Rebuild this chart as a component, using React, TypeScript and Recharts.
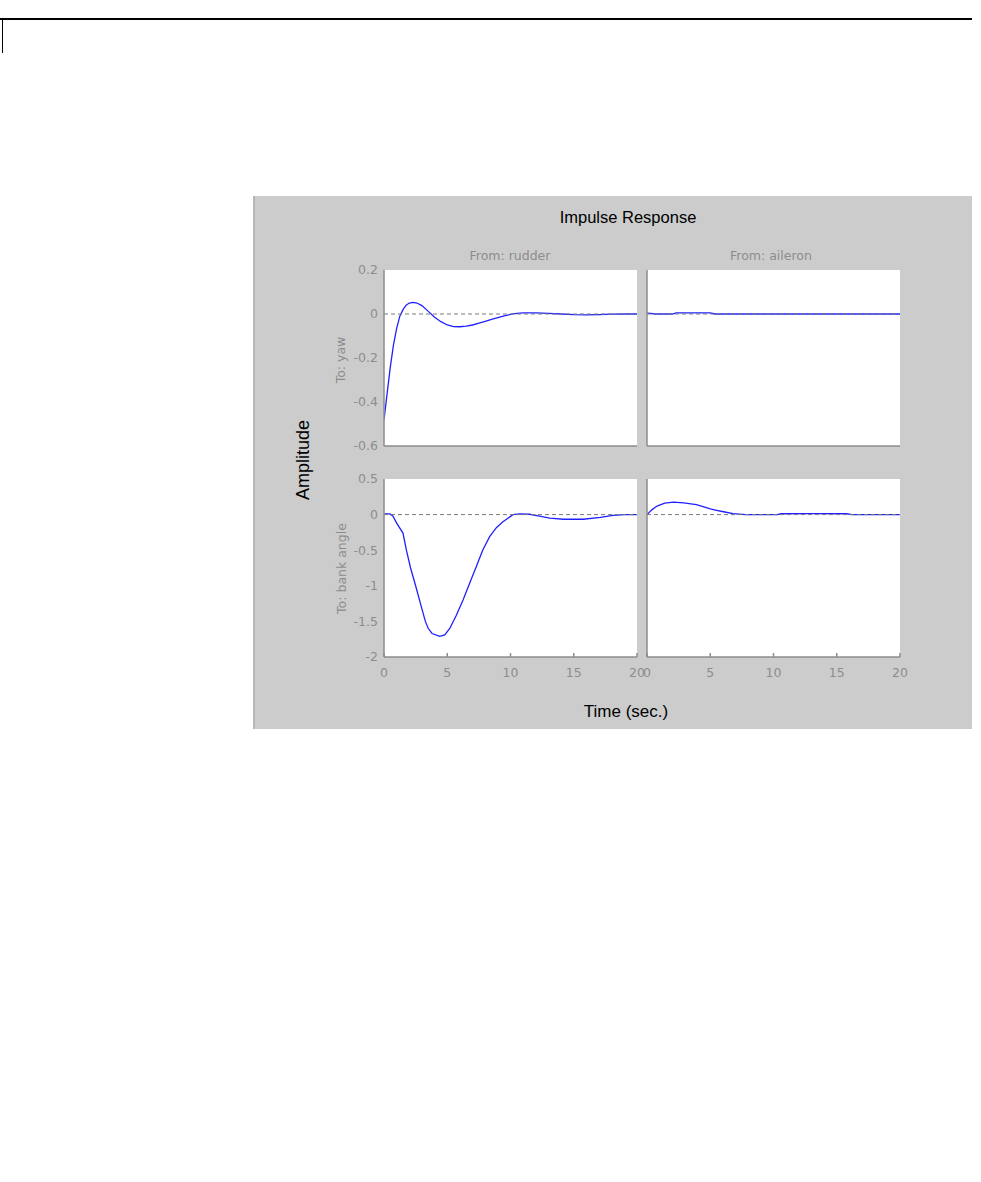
import React from "react";
import { LineChart, Line, XAxis, YAxis, ReferenceLine, CartesianGrid } from "recharts";

// ---- data ----
const xTicks = [0, 5, 10, 15, 20];
const yawTicks = [-0.6, -0.4, -0.2, 0, 0.2];
const bankTicks = [-2, -1.5, -1, -0.5, 0, 0.5];

const rudderYawT = [0, 0.25, 0.5, 0.75, 1.0, 1.25, 1.5, 1.75, 2.0, 2.3, 2.6, 3.0, 3.5, 4.0, 4.5, 5.0, 5.5, 6.0, 6.5, 7.0, 7.5, 8.0, 8.5, 9.0, 9.5, 10.0, 10.5, 11, 12, 13, 14, 15, 16, 17, 18, 19, 20];
const rudderYawV = [-0.48, -0.36, -0.24, -0.14, -0.065, -0.01, 0.02, 0.04, 0.05, 0.053, 0.05, 0.038, 0.012, -0.015, -0.035, -0.05, -0.057, -0.058, -0.055, -0.05, -0.042, -0.033, -0.024, -0.016, -0.008, -0.002, 0.003, 0.005, 0.005, 0.003, 0, -0.003, -0.004, -0.003, -0.001, 0, 0];

const aileronYawT = [0, 0.3, 0.6, 2.0, 2.3, 5.0, 5.4, 10, 20];
const aileronYawV = [0.004, 0.003, 0, 0, 0.005, 0.005, 0, 0, 0];

const rudderBankT = [0, 0.45, 0.7, 1.0, 1.5, 1.77, 2.1, 2.5, 2.9, 3.27, 3.5, 3.8, 4.4, 4.8, 5.2, 5.7, 6.25, 6.8, 7.3, 7.8, 8.35, 8.9, 9.4, 9.8, 10.2, 10.7, 11.5, 12.3, 13.1, 14.2, 15.75, 17.1, 18.1, 19, 20];
const rudderBankV = [0.01, 0.01, -0.02, -0.12, -0.26, -0.5, -0.75, -1.0, -1.26, -1.5, -1.6, -1.67, -1.71, -1.69, -1.6, -1.42, -1.2, -0.95, -0.73, -0.5, -0.31, -0.18, -0.1, -0.05, 0, 0.01, 0.005, -0.02, -0.05, -0.065, -0.065, -0.04, -0.01, 0, 0];

const aileronBankT = [0, 0.4, 0.8, 1.4, 2.1, 2.9, 3.9, 4.5, 5.0, 5.5, 6.05, 6.8, 7.8, 10.3, 10.6, 13, 15.8, 16.2, 20];
const aileronBankV = [0, 0.07, 0.12, 0.16, 0.175, 0.165, 0.14, 0.11, 0.08, 0.06, 0.04, 0.015, 0, 0, 0.012, 0.015, 0.012, 0, 0];

const toData = (t: number[], v: number[]) => t.map((tt, i) => ({ t: tt, v: v[i] }));

const GRAY = "#8c8c8c";
const TICK_STYLE = { fill: GRAY, fontSize: 12.5, fontFamily: "DejaVu Sans" };
const PLOT_W = 253;

type PanelProps = {
  x: number;
  y: number;
  h: number;
  data: { t: number; v: number }[];
  yDomain: [number, number];
  yTicks: number[];
  showX: boolean;
  showY: boolean;
};

function Panel({ x, y, h, data, yDomain, yTicks, showX, showY }: PanelProps) {
  const ML = 50, MR = 20, MT = 10, XB = 30;
  return (
    <div style={{ position: "absolute", left: x - ML, top: y - MT }}>
      <LineChart
        width={ML + PLOT_W + MR}
        height={MT + h + XB}
        data={data}
        margin={{ top: MT, right: MR, bottom: 0, left: 0 }}
      >
        <CartesianGrid xAxisId="b" yAxisId="l" fill="#ffffff" horizontal={false} vertical={false} />
        <XAxis
          xAxisId="b"
          dataKey="t"
          type="number"
          domain={[0, 20]}
          ticks={xTicks}
          allowDataOverflow
          interval={0}
          orientation="bottom"
          height={XB}
          tick={showX ? TICK_STYLE : false}
          tickSize={-4}
          tickMargin={15}
          stroke={GRAY}
          strokeWidth={1.5}
        />
        <XAxis
          xAxisId="t"
          dataKey="t"
          type="number"
          domain={[0, 20]}
          ticks={xTicks}
          allowDataOverflow
          interval={0}
          orientation="top"
          height={0}
          tick={false}
          tickSize={-4}
          stroke={GRAY}
          strokeWidth={1.5}
        />
        <YAxis
          yAxisId="l"
          type="number"
          domain={yDomain}
          ticks={yTicks}
          allowDataOverflow
          interval={0}
          width={ML}
          tickLine={false}
          tickSize={0}
          tickMargin={6}
          tick={showY ? TICK_STYLE : false}
          stroke={GRAY}
          strokeWidth={1.5}
        />
        <YAxis
          yAxisId="r"
          orientation="right"
          type="number"
          domain={yDomain}
          ticks={yTicks}
          allowDataOverflow
          interval={0}
          width={0}
          tick={false}
          tickSize={-4}
          stroke={GRAY}
          strokeWidth={1.5}
        />
        <Line
          xAxisId="t"
          yAxisId="r"
          dataKey="v"
          type="linear"
          stroke="none"
          dot={false}
          activeDot={false}
          isAnimationActive={false}
        />
        <Line
          xAxisId="b"
          yAxisId="l"
          dataKey="v"
          type="linear"
          stroke="#2020ff"
          strokeWidth={1.3}
          dot={false}
          activeDot={false}
          isAnimationActive={false}
        />
        <ReferenceLine
          xAxisId="b"
          yAxisId="l"
          y={0}
          stroke="#7a7a7a"
          strokeDasharray="4 3"
          strokeWidth={1}
          {...({ zIndex: 450 } as any)}
        />
      </LineChart>
    </div>
  );
}

export default function App() {
  const labelFont = "Liberation Sans, Arial, sans-serif";
  return (
    <div style={{ position: "absolute", left: 0, top: 0, width: 981, height: 1182, background: "#fff" }}>
      <svg width={981} height={1182} style={{ position: "absolute", left: 0, top: 0 }}>
        <line x1={0} y1={19} x2={972} y2={19} stroke="#000" strokeWidth={2} />
        <line x1={2.5} y1={19} x2={2.5} y2={53} stroke="#000" strokeWidth={1} />
        <rect x={253} y={196} width={719} height={533} fill="#cccccc" />
        <line x1={254} y1={196} x2={254} y2={729} stroke="#b8b8b8" strokeWidth={2} />
        <text x={628} y={223} textAnchor="middle" fontSize={16.5} fontFamily={labelFont} fill="#000">
          Impulse Response
        </text>
        <text x={510} y={260} textAnchor="middle" fontSize={12.5} fontFamily="DejaVu Sans" fill={GRAY}>
          From: rudder
        </text>
        <text x={771} y={260} textAnchor="middle" fontSize={12.5} fontFamily="DejaVu Sans" fill={GRAY}>
          From: aileron
        </text>
        <text x={626} y={716.5} textAnchor="middle" fontSize={17} fontFamily={labelFont} fill="#000">
          Time (sec.)
        </text>
        <text
          x={309}
          y={460}
          textAnchor="middle"
          fontSize={18}
          fontFamily={labelFont}
          fill="#000"
          transform="rotate(-90 309 460)"
        >
          Amplitude
        </text>
        <text
          x={345}
          y={360}
          textAnchor="middle"
          fontSize={12.5}
          fontFamily="DejaVu Sans"
          fill={GRAY}
          transform="rotate(-90 345 360)"
        >
          To: yaw
        </text>
        <text
          x={345.5}
          y={568.5}
          textAnchor="middle"
          fontSize={12.5}
          fontFamily="DejaVu Sans"
          fill={GRAY}
          transform="rotate(-90 345.5 568.5)"
        >
          To: bank angle
        </text>
      </svg>
      <Panel x={384} y={270} h={176} data={toData(rudderYawT, rudderYawV)} yDomain={[-0.6, 0.2]} yTicks={yawTicks} showX={false} showY={true} />
      <Panel x={647} y={270} h={176} data={toData(aileronYawT, aileronYawV)} yDomain={[-0.6, 0.2]} yTicks={yawTicks} showX={false} showY={false} />
      <Panel x={384} y={479} h={178} data={toData(rudderBankT, rudderBankV)} yDomain={[-2, 0.5]} yTicks={bankTicks} showX={true} showY={true} />
      <Panel x={647} y={479} h={178} data={toData(aileronBankT, aileronBankV)} yDomain={[-2, 0.5]} yTicks={bankTicks} showX={true} showY={false} />
    </div>
  );
}
